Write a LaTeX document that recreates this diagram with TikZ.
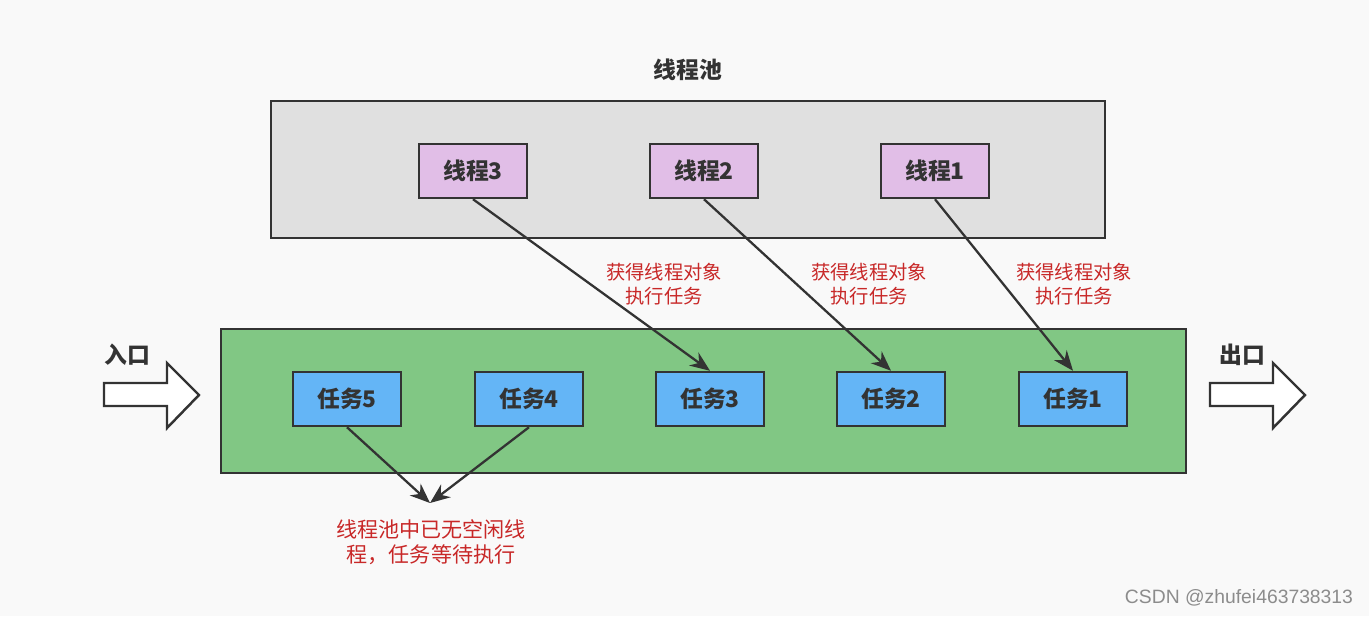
\documentclass[tikz,border=0pt]{standalone}
\usepackage{fontspec}
\newfontfamily\cjk{Noto Sans CJK SC}
\setsansfont{Liberation Sans}
\usetikzlibrary{arrows.meta}
\definecolor{bg}{RGB}{249,249,249}
\definecolor{pool}{RGB}{224,224,224}
\definecolor{queue}{RGB}{129,199,132}
\definecolor{thr}{RGB}{225,190,231}
\definecolor{tsk}{RGB}{100,181,246}
\definecolor{edge}{RGB}{51,51,51}
\definecolor{note}{RGB}{200,40,40}
\tikzset{>={Stealth[length=0.4cm,width=0.32cm]}}
\tikzset{
  frame/.style={draw=edge,line width=1.4pt},
  box/.style={frame,minimum width=2.16cm,minimum height=1.08cm,inner sep=0pt,font=\cjk\bfseries\fontsize{13}{15}\selectfont,text=edge},
  thread/.style={box,fill=thr},
  task/.style={box,fill=tsk},
  hint/.style={font=\cjk\fontsize{11}{13.5}\selectfont,text=note,align=center},
  tag/.style={font=\cjk\bfseries\fontsize{13}{15}\selectfont,text=edge},
  link/.style={->,draw=edge,line width=1.3pt},
}

\begin{document}
\begin{tikzpicture}[x=0.02cm,y=-0.02cm]
  \fill[bg] (0,0) rectangle (1369,616);
  \useasboundingbox (0,0) rectangle (1369,616);
  % pool
  \node[tag] (title) at (688,70) {线程池};
  \draw[frame,fill=pool] (271,101) rectangle (1105,238);
  \node[thread] (t3) at (473,171) {线程3};
  \node[thread] (t2) at (704,171) {线程2};
  \node[thread] (t1) at (935,171) {线程1};
  % queue
  \draw[frame,fill=queue] (221,329) rectangle (1186,473);
  \node[task] (k5) at (347,399) {任务5};
  \node[task] (k4) at (529,399) {任务4};
  \node[task] (k3) at (710,399) {任务3};
  \node[task] (k2) at (891,399) {任务2};
  \node[task] (k1) at (1073,399) {任务1};
  % threads take tasks
  \draw[link] (t3.south) -- (k3.north);
  \draw[link] (t2.south) -- (k2.north);
  \draw[link] (t1.south) -- (k1.north);
  \node[hint] (h3) at (664,284) {获得线程对象\\执行任务};
  \node[hint] (h2) at (869,284) {获得线程对象\\执行任务};
  \node[hint] (h1) at (1074,284) {获得线程对象\\执行任务};
  % waiting
  \coordinate (wait) at (430,503);
  \draw[link] (k5.south) -- (wait);
  \draw[link] (k4.south) -- (wait);
  \node[hint,font=\cjk\fontsize{12}{14}\selectfont] (full) at (431,542) {线程池中已无空闲线\\程，任务等待执行};
  % in / out
  \node[tag] (in) at (127,355) {入口};
  \draw[frame,fill=white,line join=miter] (104,383) -- (167,383) -- (167,363) -- (199,395) -- (167,428) -- (167,406) -- (104,406) -- cycle;
  \node[tag] (out) at (1242,355) {出口};
  \draw[frame,fill=white,line join=miter] (1210,383) -- (1273,383) -- (1273,363) -- (1305,395) -- (1273,428) -- (1273,406) -- (1210,406) -- cycle;
  % watermark
  \node[font=\sffamily\fontsize{11}{13}\selectfont,text=black!45] (mark) at (1239,598) {CSDN @zhufei463738313};
\end{tikzpicture}
\end{document}
